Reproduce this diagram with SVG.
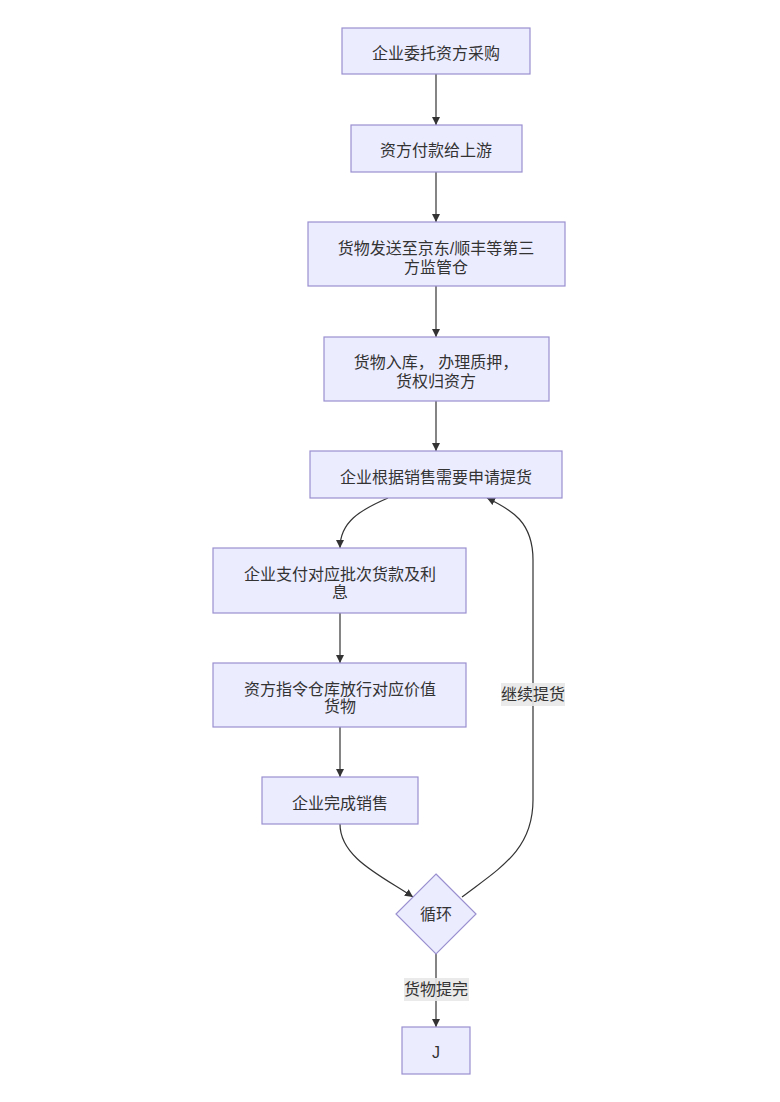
<svg xmlns="http://www.w3.org/2000/svg" width="780" height="1102" viewBox="0 0 780 1102">
<defs>
<style>
.n rect, .n polygon { fill:#ECECFF; stroke:#9a90d0; stroke-width:1.2; }
.t { font-family:"Liberation Sans","Noto Sans CJK SC",sans-serif; font-size:16px; fill:#333; text-anchor:middle; dominant-baseline:central; }
.e { fill:none; stroke:#333; stroke-width:1.2; }
.lb { fill:#e8e8e8; opacity:0.9; }
</style>
<marker id="ah" viewBox="0 0 10 10" refX="10" refY="5" markerWidth="8" markerHeight="8" markerUnits="userSpaceOnUse" orient="auto">
<path d="M0,0 L10,5 L0,10 z" fill="#333"/>
</marker>
</defs>
<rect width="780" height="1102" fill="#fff"/>
<g id="edges">
<path class="e" d="M436,74 L436,125" marker-end="url(#ah)"/>
<path class="e" d="M436,172 L436,222" marker-end="url(#ah)"/>
<path class="e" d="M436,286 L436,337" marker-end="url(#ah)"/>
<path class="e" d="M436,401 L436,451" marker-end="url(#ah)"/>
<path class="e" d="M388,498 C360,510 340,522 340,548" marker-end="url(#ah)"/>
<path class="e" d="M340,613 L340,663" marker-end="url(#ah)"/>
<path class="e" d="M340,727 L340,777" marker-end="url(#ah)"/>
<path class="e" d="M340,824 C340,858 382,876 413,897" marker-end="url(#ah)"/>
<path class="e" d="M462,897 C500,868 533,850 533,800 L533,560 C533,522 512,510 487,498" marker-end="url(#ah)"/>
<path class="e" d="M436,953 L436,1027" marker-end="url(#ah)"/>
<rect class="lb" x="501" y="683" width="64" height="23"/>
<text class="t" x="533" y="694">继续提货</text>
<rect class="lb" x="404" y="978" width="65" height="23"/>
<text class="t" x="436" y="989">货物提完</text>
</g>
<g id="A" class="n"><rect x="342" y="28" width="188" height="46"/><text class="t" x="436" y="53">企业委托资方采购</text></g>
<g id="B" class="n"><rect x="351" y="125" width="171" height="47"/><text class="t" x="436" y="150">资方付款给上游</text></g>
<g id="C" class="n"><rect x="308" y="222" width="257" height="64"/><text class="t" x="436" y="248">货物发送至京东/顺丰等第三</text><text class="t" x="436" y="267">方监管仓</text></g>
<g id="D" class="n"><rect x="324" y="337" width="225" height="64"/><text class="t" x="436" y="362">货物入库， 办理质押，</text><text class="t" x="436" y="381">货权归资方</text></g>
<g id="E" class="n"><rect x="310" y="451" width="252" height="47"/><text class="t" x="436" y="477">企业根据销售需要申请提货</text></g>
<g id="F" class="n"><rect x="213" y="548" width="253" height="65"/><text class="t" x="340" y="574">企业支付对应批次货款及利</text><text class="t" x="340" y="592">息</text></g>
<g id="G" class="n"><rect x="213" y="663" width="253" height="64"/><text class="t" x="340" y="689">资方指令仓库放行对应价值</text><text class="t" x="340" y="706">货物</text></g>
<g id="H" class="n"><rect x="262" y="777" width="156" height="47"/><text class="t" x="340" y="803">企业完成销售</text></g>
<g id="I" class="n"><polygon points="436,874 476,914 436,954 396,914"/><text class="t" x="436" y="914">循环</text></g>
<g id="J" class="n"><rect x="402" y="1027" width="68" height="47"/><text class="t" x="436" y="1052">J</text></g>
</svg>
